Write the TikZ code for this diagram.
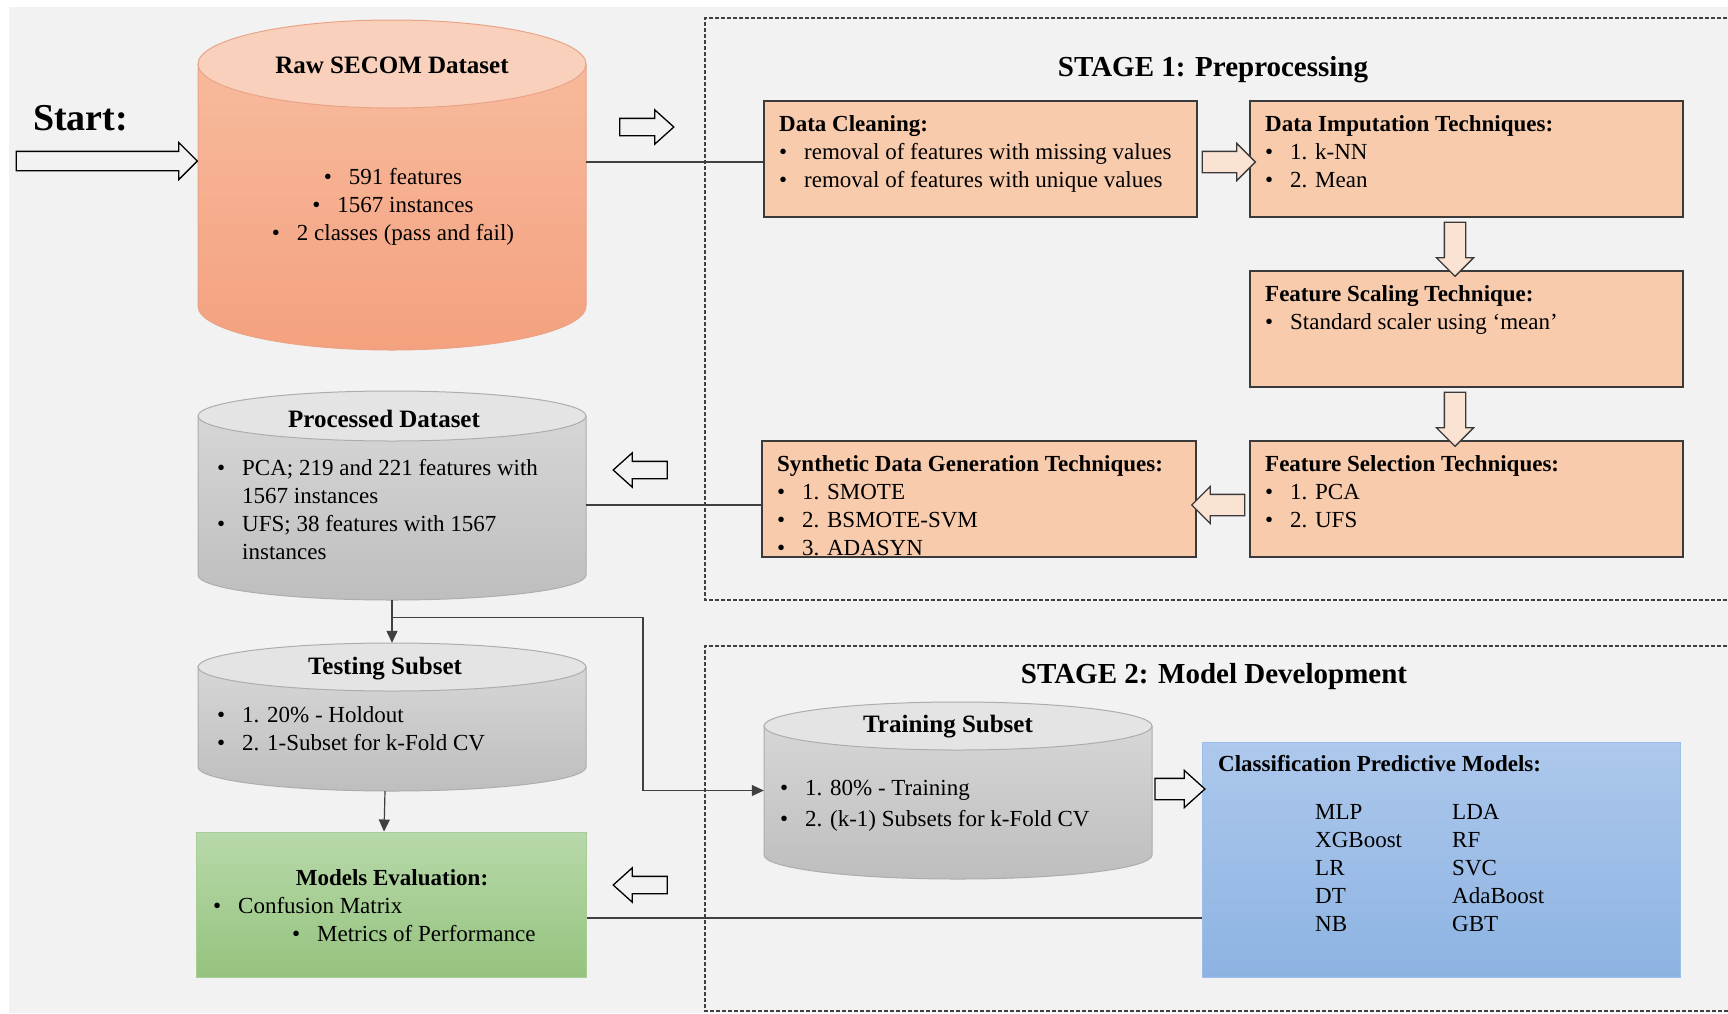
\documentclass[tikz,border=0pt]{standalone}
\usepackage{fontspec}
\setmainfont{Liberation Serif}
\usetikzlibrary{shapes.arrows, arrows.meta, calc}
\definecolor{bg}{HTML}{F2F2F2}
\definecolor{peach}{HTML}{F8CBAD}
\definecolor{peachar}{HTML}{FBE3D4}
\definecolor{boxline}{HTML}{3A3A3A}
\definecolor{rawtop}{HTML}{F9D0BC}
\definecolor{rawA}{HTML}{F7BA9C}
\definecolor{rawB}{HTML}{F4A17F}
\definecolor{rawline}{HTML}{E9A385}
\definecolor{gtop}{HTML}{E4E4E4}
\definecolor{gA}{HTML}{D6D6D6}
\definecolor{gB}{HTML}{BEBEBE}
\definecolor{gline}{HTML}{ADADAD}
\definecolor{grA}{HTML}{B8D9AA}
\definecolor{grB}{HTML}{95C37E}
\definecolor{grline}{HTML}{A6CE96}
\definecolor{blA}{HTML}{ADC8EC}
\definecolor{blB}{HTML}{8DB3E2}
\definecolor{blline}{HTML}{9DBEE8}
\definecolor{conncol}{HTML}{404040}
\newcommand{\fbody}{\fontsize{23}{28}\selectfont}
\newcommand{\ftitle}{\fontsize{25}{30}\selectfont\bfseries}
\newcommand{\bul}[1]{\makebox[25pt][l]{\textbullet}#1}
\newcommand{\txtlines}[1]{\begin{tabular}[t]{@{}l@{}}#1\end{tabular}}
\newcommand{\ctrlines}[1]{\begin{tabular}[t]{@{}c@{}}#1\end{tabular}}
% cylinder: #1 x1, #2 x2, #3 ytop, #4 ybot, #5 ry, #6 top fill, #7 body top, #8 body bottom, #9 border
\newcommand{\mycyl}[9]{%
  \pgfmathsetmacro{\rxx}{(#2-#1)/2}%
  \pgfmathsetmacro{\xcc}{(#2+#1)/2}%
  \pgfmathsetmacro{\ytt}{#3+#5}%
  \pgfmathsetmacro{\ybb}{#4-#5}%
  \path[top color=#7, bottom color=#8, draw=#9, line width=1pt]
    (#1,\ytt) -- (#1,\ybb) arc[start angle=180, end angle=360, x radius=\rxx pt, y radius=#5 pt]
    -- (#2,\ytt) -- cycle;
  \path[fill=#6, draw=#9, line width=1pt] (\xcc,\ytt) ellipse[x radius=\rxx pt, y radius=#5 pt];
}
\begin{document}
\begin{tikzpicture}[x=1pt,y=-1pt,
  conn/.style={draw=conncol, line width=1.2pt},
  tip/.style={-{Triangle[length=12pt,width=11pt]}},
  pbox/.style={draw=boxline, line width=1.4pt, fill=peach, inner sep=0pt, minimum width=433pt, minimum height=116pt},
  ghost/.style={inner sep=0pt},
  harrow/.style={single arrow, draw=black, line width=1.3pt, fill=bg, inner xsep=0pt, inner ysep=8pt,
     single arrow head extend=8.5pt, single arrow tip angle=84, minimum height=54pt},
  parrow/.style={single arrow, draw=boxline, line width=1.3pt, fill=peachar, inner xsep=0pt, inner ysep=10pt,
     single arrow head extend=8pt, single arrow tip angle=90, minimum height=54pt},
  bodytxt/.style={font=\fbody, inner sep=0pt, anchor=base west},
  stagebox/.style={draw=conncol, line width=1.2pt, dash pattern=on 4pt off 2pt}
]
\useasboundingbox (0,0) rectangle (1728,1013);
\fill[bg] (9,7) rectangle (1728,1013);

% stage frames
\draw[stagebox] (1745,18) -- (705,18) -- (705,600) -- (1745,600);
\draw[stagebox] (1745,646) -- (705,646) -- (705,1011) -- (1745,1011);
\node[font=\fontsize{29}{34}\selectfont\bfseries, anchor=base, inner sep=0pt] (st1) at (1213,76) {STAGE 1: Preprocessing};
\node[font=\fontsize{29}{34}\selectfont\bfseries, anchor=base, inner sep=0pt] (st2) at (1214,683) {STAGE 2: Model Development};

% Start
\node[font=\fontsize{38}{44}\selectfont\bfseries, anchor=base west, inner sep=0pt] (start) at (33,130) {Start:};

% cylinders
\mycyl{198}{586}{20}{350}{44}{rawtop}{rawA}{rawB}{rawline}
\node[ghost, minimum width=388pt, minimum height=330pt] (raw) at (392,185) {};
\mycyl{198}{586}{391}{600}{25}{gtop}{gA}{gB}{gline}
\node[ghost, minimum width=388pt, minimum height=209pt] (proc) at (392,495.5) {};
\mycyl{198}{586}{643}{791}{24}{gtop}{gA}{gB}{gline}
\node[ghost, minimum width=388pt, minimum height=148pt] (test) at (392,717) {};
\mycyl{764}{1152}{702}{879}{24}{gtop}{gA}{gB}{gline}
\node[ghost, minimum width=388pt, minimum height=177pt] (train) at (958,790.5) {};

% boxes
\node[pbox] (clean) at (980.5,159) {};
\node[pbox] (imp) at (1466.5,159) {};
\node[pbox] (scal) at (1466.5,329) {};
\node[pbox] (sel) at (1466.5,499) {};
\node[pbox, minimum width=434pt] (syn) at (979,499) {};
\node[draw=grline, line width=1pt, top color=grA, bottom color=grB, inner sep=0pt,
      minimum width=390pt, minimum height=145pt] (eval) at (391,904.5) {};
\node[draw=blline, line width=1pt, top color=blA, bottom color=blB, inner sep=0pt,
      minimum width=478pt, minimum height=235pt] (clf) at (1441,859.5) {};

% connectors
\coordinate (c1) at ([yshift=-3pt]clean.west);
\draw[conn] (c1 -| raw.east) -- (c1);
\coordinate (c2) at ([yshift=-6pt]syn.west);
\draw[conn] (c2) -- (c2 -| proc.east);
\coordinate (c3) at ([yshift=-13.5pt]eval.east);
\draw[conn] (c3) -- (c3 -| clf.west);
\draw[conn, tip] (proc.south) -- (test.north);
\coordinate (b1) at ([yshift=-17pt]proc.south);
\draw[conn, tip] (b1) -- ++(251,0) |- (train.west);
\draw[conn, tip] ([xshift=-7pt]test.south) -- ([xshift=-7pt]eval.north);

% block arrows
\node[harrow, minimum height=181pt, inner ysep=9pt, single arrow head extend=9pt, single arrow tip angle=90] (a0) at (102,161) {};
\node[harrow] (a1) at (642,127) {};
\node[harrow, rotate=180] (a2) at (645,470) {};
\node[harrow, rotate=180] (a3) at (645,885) {};
\node[harrow, minimum height=50pt, inner ysep=10pt, single arrow head extend=8pt] (a4) at (1174,789) {};
\node[parrow, minimum height=53pt] (p1) at (1223.5,162) {};
\node[parrow, rotate=-90] (p2) at (1455,244) {};
\node[parrow, rotate=-90] (p3) at (1455,414) {};
\node[parrow, minimum height=53pt, rotate=180] (p4) at (1223.5,505) {};

% texts: stage 1 boxes
\node[bodytxt] (tclean) at (779,131) {\txtlines{\textbf{Data Cleaning:}\\ \bul{removal of features with missing values}\\ \bul{removal of features with unique values}}};
\node[bodytxt] (timp) at (1265,131) {\txtlines{\textbf{Data Imputation Techniques:}\\ \bul{1. k-NN}\\ \bul{2. Mean}}};
\node[bodytxt] (tscal) at (1265,301) {\txtlines{\textbf{Feature Scaling Technique:}\\ \bul{Standard scaler using ‘mean’}}};
\node[bodytxt] (tsel) at (1265,471) {\txtlines{\textbf{Feature Selection Techniques:}\\ \bul{1. PCA}\\ \bul{2. UFS}}};
\node[bodytxt] (tsyn) at (777,471) {\txtlines{\textbf{Synthetic Data Generation Techniques:}\\ \bul{1. SMOTE}\\ \bul{2. BSMOTE-SVM}\\ \bul{3. ADASYN}}};

% cylinder texts
\node[font=\ftitle, anchor=base, inner sep=0pt] (traw) at (392,73) {Raw SECOM Dataset};
\node[font=\fbody, anchor=base, inner sep=0pt] (braw) at (393,184) {\ctrlines{\bul{591 features}\\ \bul{1567 instances}\\ \bul{2 classes (pass and fail)}}};
\node[font=\ftitle, anchor=base, inner sep=0pt] (tproc) at (384,427) {Processed Dataset};
\node[bodytxt] (bproc) at (217,475) {\txtlines{\bul{PCA; 219 and 221 features with}\\ \hspace*{25pt}1567 instances\\ \bul{UFS; 38 features with 1567}\\ \hspace*{25pt}instances}};
\node[font=\ftitle, anchor=base, inner sep=0pt] (ttest) at (385,674) {Testing Subset};
\node[bodytxt] (btest) at (217,722) {\txtlines{\bul{1. 20\% - Holdout}\\ \bul{2. 1-Subset for k-Fold CV}}};
\node[font=\ftitle, anchor=base, inner sep=0pt] (ttrain) at (948,732) {Training Subset};
\node[bodytxt] (btrain) at (780,795) {\txtlines{\bul{1. 80\% - Training}\\[3pt] \bul{2. (k-1) Subsets for k-Fold CV}}};

% evaluation texts
\node[font=\fbody\bfseries, anchor=base, inner sep=0pt] (teval) at (392,885) {Models Evaluation:};
\node[bodytxt] (beval1) at (213,913) {\bul{Confusion Matrix}};
\node[bodytxt] (beval2) at (292,941) {\bul{Metrics of Performance}};

% classification texts
\node[bodytxt] (tclf) at (1218,771) {\textbf{Classification Predictive Models:}};
\node[bodytxt] (clf1) at (1315,819) {\txtlines{MLP\\ XGBoost\\ LR\\ DT\\ NB}};
\node[bodytxt] (clf2) at (1452,819) {\txtlines{LDA\\ RF\\ SVC\\ AdaBoost\\ GBT}};
\end{tikzpicture}
\end{document}
